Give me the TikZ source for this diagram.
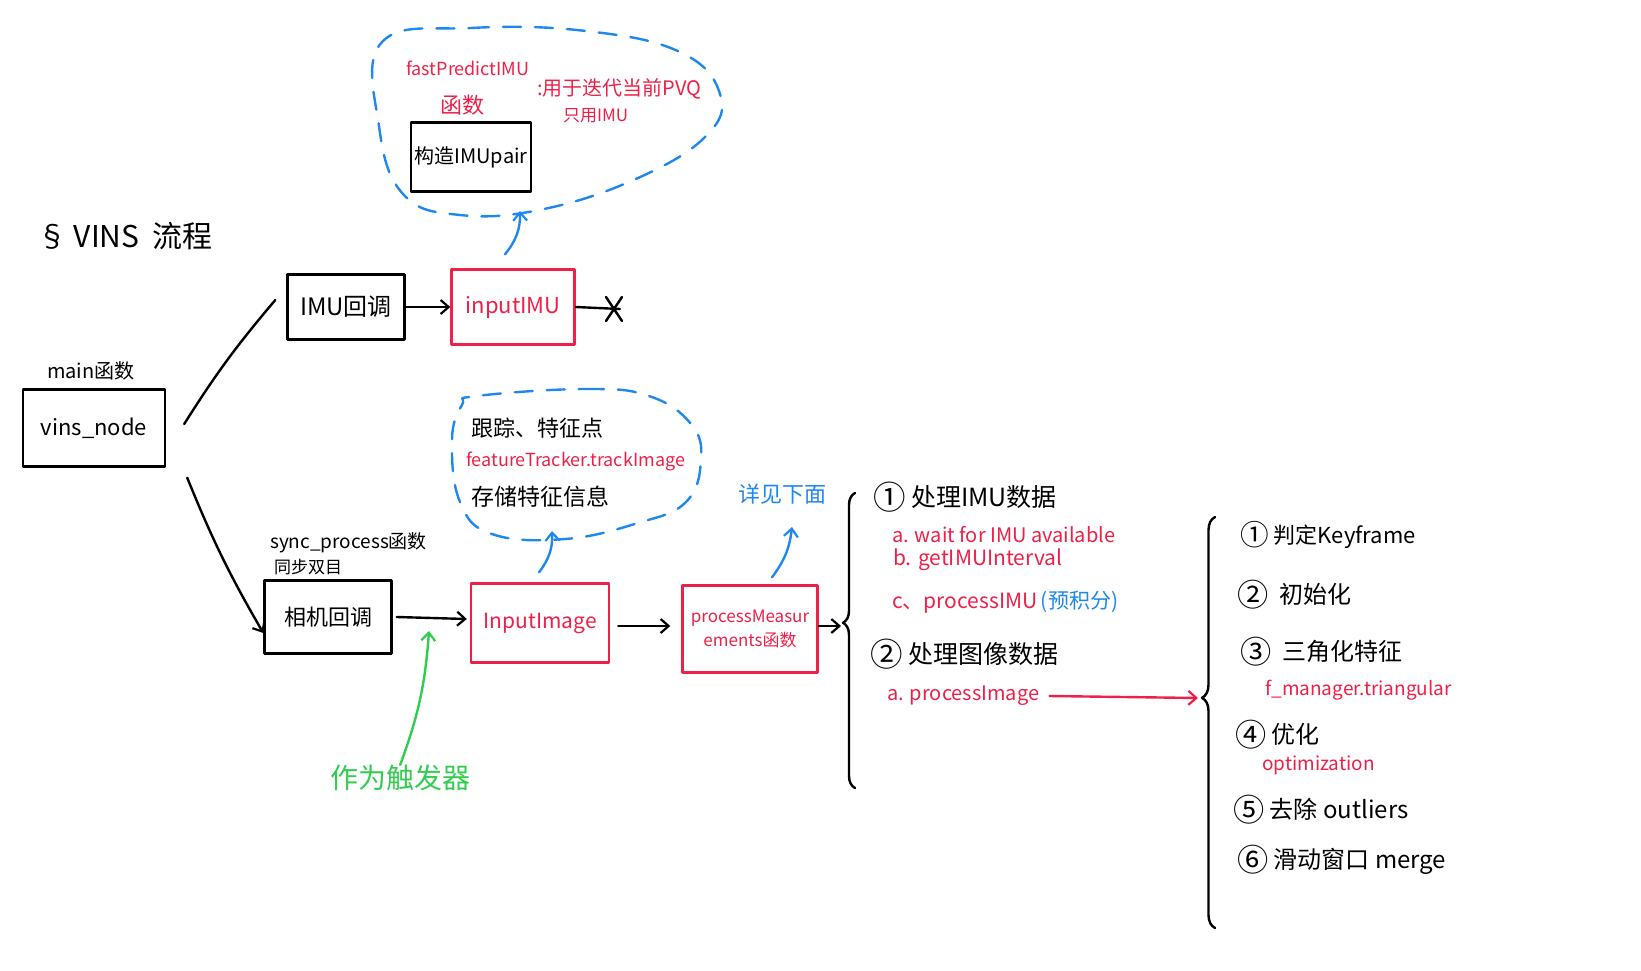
\documentclass[tikz,border=0pt]{standalone}
\usepackage{fontspec}
\setmainfont{Noto Sans CJK SC}
\usetikzlibrary{arrows.meta,decorations.pathreplacing}
\definecolor{hred}{RGB}{238,32,72}
\definecolor{hbl}{RGB}{30,136,238}
\definecolor{hgr}{RGB}{50,205,80}
\newcommand\fsz[1]{\fontsize{#1pt}{#1pt}\selectfont}
\newcommand\cnum[1]{\raisebox{-0.12em}{\scalebox{1.3}{#1}}}
\begin{document}
\begin{tikzpicture}[x=1pt,y=-1pt,
  hand/.style={line width=2.4pt, line cap=round, line join=round},
  box/.style={hand, draw, inner sep=2pt, align=center},
  rbox/.style={box, draw=hred, text=hred},
  arr/.style={hand, -{Straight Barb[length=8pt,width=14pt,line width=2.2pt]}},
  cloudline/.style={draw=hbl, line width=2.4pt, dash pattern=on 18pt off 14pt, line cap=round},
  lbl/.style={inner sep=0pt, anchor=west},
  rlbl/.style={lbl, text=hred},
  blbl/.style={lbl, text=hbl},
]
\useasboundingbox (0,0) rectangle (1641,971);

% title
\node[lbl] (title) at (37,236) {\fsz{30}§ VINS\ \ 流程};

% boxes
\node[box, minimum width=142pt, minimum height=77pt] (vins) at (94,428) {\fsz{22}vins\_node};
\node[lbl] (mainlbl) at (47,371) {\fsz{20}main函数};
\node[box, minimum width=117pt, minimum height=65pt] (imucb) at (346,307) {\fsz{24}IMU回调};
\node[rbox, minimum width=123pt, minimum height=75pt] (inputimu) at (513,307) {\fsz{22}inputIMU};
\node[box, minimum width=120pt, minimum height=69pt] (pair) at (471,157) {\fsz{20}构造IMUpair};
\node[box, minimum width=127pt, minimum height=73pt] (cam) at (328,617) {\fsz{22}相机回调};
\node[rbox, minimum width=138pt, minimum height=79pt] (inputimg) at (540,623) {\fsz{21}InputImage};
\node[rbox, minimum width=135pt, minimum height=87pt] (procm) at (750,629) {\fsz{17}processMeasur\\[4pt]\fsz{17}ements函数};

% labels near boxes
\node[lbl] (synclbl) at (270,543) {\fsz{19}sync\_process函数};
\node[lbl] (stereo) at (274,567) {\fsz{17}同步双目};
\node[lbl, text=hgr] (trig) at (330,778) {\fsz{28}作为触发器};

% cloud 1
\draw[cloudline] plot[smooth cycle, tension=0.7] coordinates {(382,42) (471,28) (586,31) (680,52) (720,94) (706,136) (638,178) (544,209) (460,215) (403,194) (379,126)};
\node[rlbl] (fp) at (406,68) {\fsz{18}fastPredictIMU};
\node[rlbl] (fpfn) at (440,105) {\fsz{22}函数};
\node[rlbl] (fpdesc) at (537,89) {\fsz{20}:用于迭代当前PVQ};
\node[rlbl] (fponly) at (563,116) {\fsz{17}只用IMU};

% cloud 2
\draw[cloudline] plot[smooth cycle, tension=0.7] coordinates {(477,396) (586,389) (649,396) (691,424) (701,460) (686,502) (638,523) (565,539) (492,534) (460,502) (452,440) (462,405)};
\node[lbl] (track) at (471,428) {\fsz{22}跟踪、特征点};
\node[rlbl] (ftrack) at (466,461) {\fsz{18}featureTracker.trackImage};
\node[lbl] (store) at (471,497) {\fsz{23}存储特征信息};
\node[blbl] (below) at (738,494) {\fsz{22}详见下面};

% coordinates for free ends
\coordinate (c1in) at (520,211);
\coordinate (c2in) at (552,531);
\coordinate (belowin) at (792,527);
\coordinate (trigtip) at (429,631);
\coordinate (xmark) at (614,309);
\coordinate (b1tip) at (841,626);
\coordinate (b2tip) at (1198,698);

% braces
\draw[hand, decorate, decoration={brace, amplitude=12pt, aspect=0.56}] (855,788) -- (855,493);
\draw[hand, decorate, decoration={brace, amplitude=13pt, aspect=0.56}] (1215,928) -- (1215,517);

% middle column
\node[lbl] (s1) at (873,497) {\fsz{25}\cnum{①} 处理IMU数据};
\node[rlbl] (s1a) at (892,535) {\fsz{20}a. wait for IMU available};
\node[rlbl] (s1b) at (893,560) {\fsz{21}b. getIMUInterval};
\node[rlbl] (s1c) at (892,602) {\fsz{21}c、processIMU\,{\color{hbl}(预积分)}};
\node[lbl] (s2) at (870,654) {\fsz{25}\cnum{②} 处理图像数据};
\node[rlbl] (s2a) at (887,696) {\fsz{20}a. processImage};

% right column
\node[lbl] (r1) at (1240,535) {\fsz{22}\cnum{①} 判定Keyframe};
\node[lbl] (r2) at (1237,595) {\fsz{24}\cnum{②}\ \ 初始化};
\node[lbl] (r3) at (1240,652) {\fsz{24}\cnum{③}\ \ 三角化特征};
\node[rlbl] (r3a) at (1265,690) {\fsz{19}f\_manager.triangular};
\node[lbl] (r4) at (1235,735) {\fsz{24}\cnum{④} 优化};
\node[rlbl] (r4a) at (1262,765) {\fsz{19}optimization};
\node[lbl] (r5) at (1233,810) {\fsz{24}\cnum{⑤} 去除 outliers};
\node[lbl] (r6) at (1237,860) {\fsz{24}\cnum{⑥} 滑动窗口 merge};

% connectors
\draw[hand] ([xshift=18pt,yshift=4pt]vins.east) to[bend left=4] ([xshift=-11pt,yshift=7pt]imucb.west);
\draw[arr] ([xshift=21pt,yshift=-10pt]vins.south east) to[bend right=4] ([yshift=-16pt]cam.west);
\draw[arr] (imucb) -- (inputimu);
\draw[hand] (inputimu.east) -- ([xshift=6pt]xmark);
\draw[hand] ([shift={(-8pt,12pt)}]xmark) -- ([shift={(8pt,-12pt)}]xmark);
\draw[hand] ([shift={(8pt,12pt)}]xmark) -- ([shift={(-8pt,-12pt)}]xmark);
\draw[arr, draw=hbl] ([xshift=-8pt,yshift=14pt]inputimu.north) to[bend right=20] (c1in);
\draw[arr] ([xshift=4pt]cam.east) -- ([xshift=-3pt,yshift=4pt]inputimg.west);
\draw[arr, draw=hgr] (trig.north) to[bend right=8] (trigtip);
\draw[arr, draw=hbl] ([xshift=-1pt,yshift=10pt]inputimg.north) to[bend right=20] (c2in);
\draw[arr] ([xshift=8pt,yshift=-3pt]inputimg.east) -- ([xshift=-11pt,yshift=3pt]procm.west);
\draw[arr, draw=hbl] ([xshift=22pt,yshift=7pt]procm.north) to[bend right=15] (belowin);
\draw[arr] ([yshift=3pt]procm.east) -- (b1tip);
\draw[arr, draw=hred] ([xshift=10pt]s2a.east) -- (b2tip);
\end{tikzpicture}
\end{document}
